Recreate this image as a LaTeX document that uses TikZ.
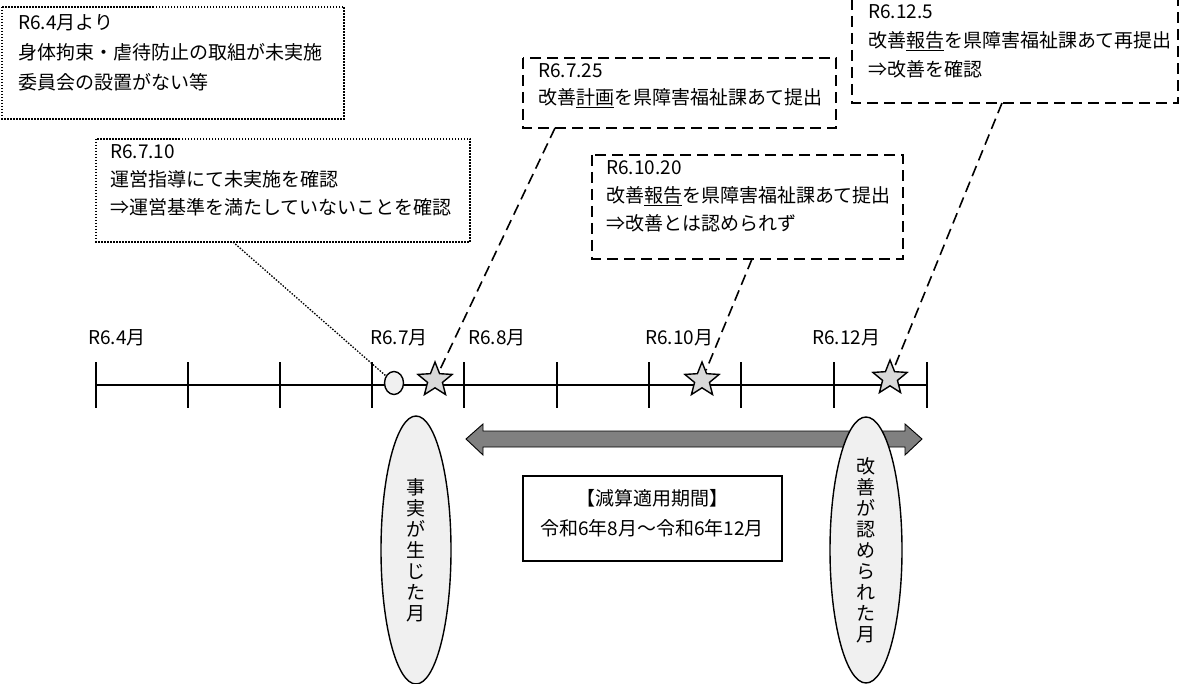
\documentclass[tikz,border=0pt]{standalone}
\usepackage{fontspec}
\setmainfont{Noto Sans CJK JP}
\usetikzlibrary{shapes.geometric,arrows.meta}
\tikzset{
 txt/.style={font=\fontsize{19}{30}\selectfont,align=left,anchor=north west,inner sep=0pt},
 box/.style={draw,line width=1.5pt},
 dsh/.style={dash pattern=on 11pt off 6pt},
 dtt/.style={dash pattern=on 1.5pt off 1.5pt},
 tk/.style={line width=1.6pt},
 st/.style={star,star points=5,star point ratio=2.3,minimum size=36pt,inner sep=0pt,draw,line width=1.4pt,fill=black!15},
 el/.style={ellipse,draw,line width=1.4pt,fill=black!6,inner sep=0pt},
}
\newcommand{\ul}[1]{\underline{#1}}
\begin{document}
\begin{tikzpicture}[x=1pt,y=-1pt]
\useasboundingbox (0,0) rectangle (1185,684);
% boxes
\draw[box,dtt] (2,7) rectangle (344,119);
\node[txt] (t1) at (18,14) {R6.4月より\\身体拘束・虐待防止の取組が未実施\\委員会の設置がない等};
\draw[box,dtt] (96,139) rectangle (470,242);
\coordinate (b2) at (233,242);
\node[txt,font=\fontsize{19}{28}\selectfont] (t2) at (110,144) {R6.7.10\\運営指導にて未実施を確認\\⇒運営基準を満たしていないことを確認};
\draw[box,dsh] (523,58) rectangle (836,128);
\coordinate (b3) at (555,128);
\node[txt,font=\fontsize{19}{27}\selectfont] (t3) at (538,63) {R6.7.25\\改善\ul{計画}を県障害福祉課あて提出};
\draw[box,dsh] (592,155) rectangle (903,259);
\coordinate (b4) at (752,259);
\node[txt,font=\fontsize{19}{28}\selectfont] (t4) at (606,160) {R6.10.20\\改善\ul{報告}を県障害福祉課あて提出\\⇒改善とは認められず};
\draw[box,dsh] (852,-1) rectangle (1178,103);
\coordinate (b5) at (1002,103);
\node[txt,font=\fontsize{19}{29}\selectfont] (t5) at (868,4) {R6.12.5\\改善\ul{報告}を県障害福祉課あて再提出\\⇒改善を確認};
% timeline
\draw[tk] (96,385) -- (927,385);
\foreach \x in {96,188,280,372,464,557,649,741,834,927} \draw[tk] (\x,362) -- (\x,408);
\foreach \x/\l in {88/R6.4月,370/R6.7月,468/R6.8月,645/R6.10月,812/R6.12月}
 \node[font=\fontsize{19}{18}\selectfont,anchor=west,inner sep=0pt] at (\x,338) {\l};
% arrow
\draw[line width=0.9pt,fill=black!50] (466,439) -- (483,424) -- (483,431) -- (905,431) -- (905,424) -- (922,439) -- (905,455) -- (905,447) -- (483,447) -- (483,455) -- cycle;
% markers
\node[el,minimum width=19pt,minimum height=23pt] (c) at (394,383) {};
\node[st] (s1) at (435,380) {};
\node[st] (s2) at (702,380) {};
\node[st] (s3) at (890,378) {};
\draw[line width=1.3pt,dtt] (b2) -- (c);
\draw[line width=1.6pt,dsh] (b3) -- (s1);
\draw[line width=1.6pt,dsh] (b4) -- (s2);
\draw[line width=1.6pt,dsh] (b5) -- (s3);
% ellipses
\node[el,minimum width=70pt,minimum height=268pt,align=center,font=\fontsize{19}{21}\selectfont] (e1) at (416,550) {事\\実\\が\\生\\じ\\た\\月};
\node[el,minimum width=72pt,minimum height=266pt,align=center,font=\fontsize{19}{21}\selectfont] (e2) at (866,550) {改\\善\\が\\認\\め\\ら\\れ\\た\\月};
% period box
\draw[line width=1.5pt] (523,476) rectangle (782,561);
\node[font=\fontsize{19}{30}\selectfont,align=center] (p) at (652,513) {【減算適用期間】\\令和6年8月～令和6年12月};
\end{tikzpicture}
\end{document}
